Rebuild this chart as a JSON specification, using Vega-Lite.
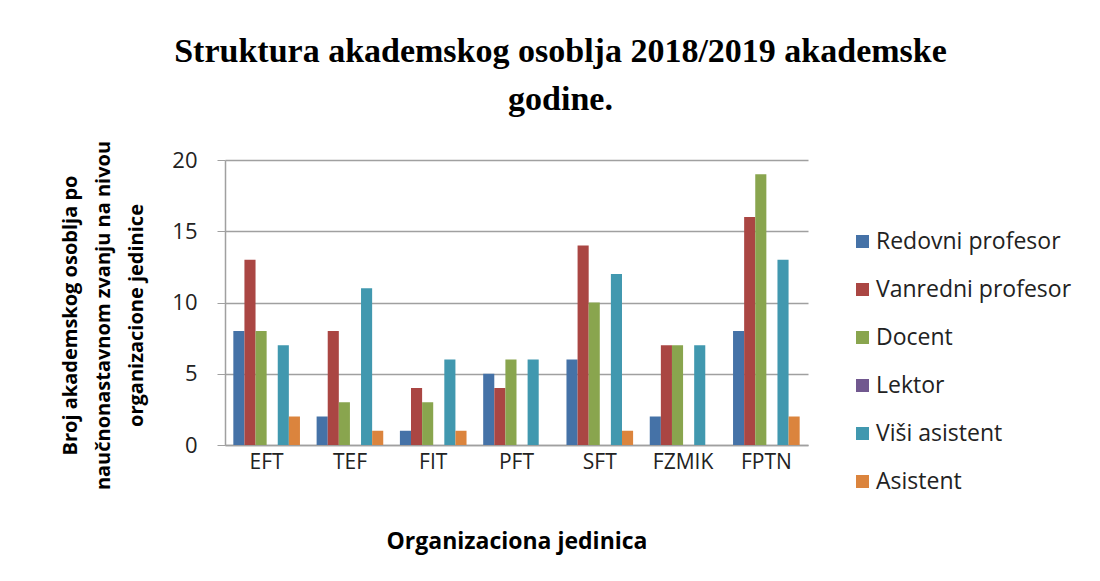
{
  "$schema": "https://vega.github.io/schema/vega-lite/v6.json",
  "width": 583,
  "height": 285,
  "autosize": {"type": "none"},
  "padding": {"left": 225, "top": 160, "right": 292, "bottom": 136},
  "background": "white",
  "title": {
    "text": ["Struktura akademskog osoblja 2018/2019 akademske", "godine."],
    "font": "Liberation Serif",
    "fontSize": 34,
    "fontWeight": "bold",
    "lineHeight": 48,
    "color": "black",
    "anchor": "middle",
    "frame": "group",
    "offset": 23,
    "dx": 44
  },
  "data": {
    "values": [
      {"jedinica": "EFT", "zvanje": "Redovni profesor", "broj": 8},
      {"jedinica": "EFT", "zvanje": "Vanredni profesor", "broj": 13},
      {"jedinica": "EFT", "zvanje": "Docent", "broj": 8},
      {"jedinica": "EFT", "zvanje": "Lektor", "broj": 0},
      {"jedinica": "EFT", "zvanje": "Viši asistent", "broj": 7},
      {"jedinica": "EFT", "zvanje": "Asistent", "broj": 2},
      {"jedinica": "TEF", "zvanje": "Redovni profesor", "broj": 2},
      {"jedinica": "TEF", "zvanje": "Vanredni profesor", "broj": 8},
      {"jedinica": "TEF", "zvanje": "Docent", "broj": 3},
      {"jedinica": "TEF", "zvanje": "Lektor", "broj": 0},
      {"jedinica": "TEF", "zvanje": "Viši asistent", "broj": 11},
      {"jedinica": "TEF", "zvanje": "Asistent", "broj": 1},
      {"jedinica": "FIT", "zvanje": "Redovni profesor", "broj": 1},
      {"jedinica": "FIT", "zvanje": "Vanredni profesor", "broj": 4},
      {"jedinica": "FIT", "zvanje": "Docent", "broj": 3},
      {"jedinica": "FIT", "zvanje": "Lektor", "broj": 0},
      {"jedinica": "FIT", "zvanje": "Viši asistent", "broj": 6},
      {"jedinica": "FIT", "zvanje": "Asistent", "broj": 1},
      {"jedinica": "PFT", "zvanje": "Redovni profesor", "broj": 5},
      {"jedinica": "PFT", "zvanje": "Vanredni profesor", "broj": 4},
      {"jedinica": "PFT", "zvanje": "Docent", "broj": 6},
      {"jedinica": "PFT", "zvanje": "Lektor", "broj": 0},
      {"jedinica": "PFT", "zvanje": "Viši asistent", "broj": 6},
      {"jedinica": "PFT", "zvanje": "Asistent", "broj": 0},
      {"jedinica": "SFT", "zvanje": "Redovni profesor", "broj": 6},
      {"jedinica": "SFT", "zvanje": "Vanredni profesor", "broj": 14},
      {"jedinica": "SFT", "zvanje": "Docent", "broj": 10},
      {"jedinica": "SFT", "zvanje": "Lektor", "broj": 0},
      {"jedinica": "SFT", "zvanje": "Viši asistent", "broj": 12},
      {"jedinica": "SFT", "zvanje": "Asistent", "broj": 1},
      {"jedinica": "FZMIK", "zvanje": "Redovni profesor", "broj": 2},
      {"jedinica": "FZMIK", "zvanje": "Vanredni profesor", "broj": 7},
      {"jedinica": "FZMIK", "zvanje": "Docent", "broj": 7},
      {"jedinica": "FZMIK", "zvanje": "Lektor", "broj": 0},
      {"jedinica": "FZMIK", "zvanje": "Viši asistent", "broj": 7},
      {"jedinica": "FZMIK", "zvanje": "Asistent", "broj": 0},
      {"jedinica": "FPTN", "zvanje": "Redovni profesor", "broj": 8},
      {"jedinica": "FPTN", "zvanje": "Vanredni profesor", "broj": 16},
      {"jedinica": "FPTN", "zvanje": "Docent", "broj": 19},
      {"jedinica": "FPTN", "zvanje": "Lektor", "broj": 0},
      {"jedinica": "FPTN", "zvanje": "Viši asistent", "broj": 13},
      {"jedinica": "FPTN", "zvanje": "Asistent", "broj": 2}
    ]
  },
  "mark": {"type": "bar"},
  "encoding": {
    "x": {
      "field": "jedinica",
      "type": "nominal",
      "sort": ["EFT", "TEF", "FIT", "PFT", "SFT", "FZMIK", "FPTN"],
      "scale": {"paddingInner": 0.2, "paddingOuter": 0.1},
      "axis": {
        "title": "Organizaciona jedinica",
        "titleFont": "Open Sans",
        "titleFontSize": 23,
        "titleFontWeight": "bold",
        "titleColor": "black",
        "titlePadding": 58,
        "labelFont": "Open Sans",
        "labelFontSize": 21,
        "labelColor": "#222",
        "labelAngle": 0,
        "labelPadding": 6,
        "ticks": false,
        "domainColor": "#a0a0a0",
        "domainWidth": 1.5,
        "grid": false
      }
    },
    "xOffset": {
      "field": "zvanje",
      "type": "nominal",
      "sort": ["Redovni profesor", "Vanredni profesor", "Docent", "Lektor", "Viši asistent", "Asistent"],
      "scale": {"paddingInner": 0, "paddingOuter": 0}
    },
    "y": {
      "field": "broj",
      "type": "quantitative",
      "scale": {"domain": [0, 20]},
      "axis": {
        "values": [0, 5, 10, 15, 20],
        "title": ["Broj akademskog osoblja po", "naučnonastavnom zvanju na nivou", "organizacione jedinice"],
        "titleFont": "Open Sans",
        "titleFontSize": 20,
        "titleFontWeight": "bold",
        "titleColor": "black",
        "titleLineHeight": 33,
        "titlePadding": 25,
        "titleY": 155,
        "labelFont": "Open Sans",
        "labelFontSize": 22,
        "labelColor": "#222",
        "labelPadding": 20,
        "tickColor": "#a0a0a0",
        "tickSize": 8,
        "domainColor": "#a0a0a0",
        "domainWidth": 1.5,
        "gridColor": "#a0a0a0",
        "gridWidth": 1.5
      }
    },
    "color": {
      "field": "zvanje",
      "type": "nominal",
      "scale": {
        "domain": ["Redovni profesor", "Vanredni profesor", "Docent", "Lektor", "Viši asistent", "Asistent"],
        "range": ["#4572A7", "#AA4643", "#89A54E", "#71588F", "#4198AF", "#DB843D"]
      },
      "legend": {
        "title": null,
        "orient": "none",
        "legendX": 626,
        "legendY": 70,
        "symbolType": "square",
        "symbolSize": 170,
        "symbolStrokeWidth": 0,
        "labelFont": "Open Sans",
        "labelFontSize": 23,
        "labelColor": "#222",
        "labelOffset": 2,
        "labelLimit": 0,
        "rowPadding": 24
      }
    }
  },
  "config": {"view": {"stroke": null}}
}
